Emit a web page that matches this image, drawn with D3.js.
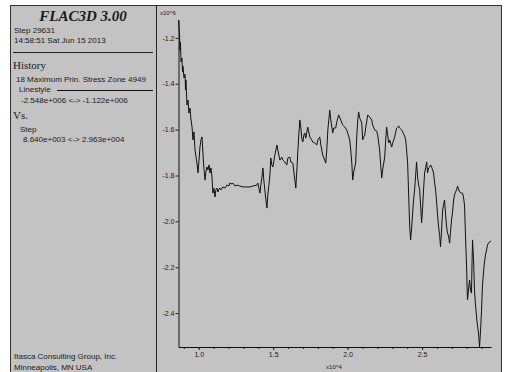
<!DOCTYPE html>
<html>
<head>
<meta charset="utf-8">
<script src="https://cdn.jsdelivr.net/npm/d3@7"></script>
<style>
  html, body { margin: 0; padding: 0; background: #fff; }
  svg { display: block; }
  text { font-family: "Liberation Sans", Arial, sans-serif; fill: #1a1a1a; }
  .serif { font-family: "Liberation Serif", "Times New Roman", serif; }
</style>
</head>
<body>
<div id="chart"></div>
<script>
// history 18: step number vs maximum principal stress (x10^6)
const steps = [
  8640, 8710, 8740, 8770, 8810, 8870, 8910, 8940, 9010, 9080, 9110, 9140, 9180, 9210, 9280, 9340,
  9410, 9480, 9550, 9610, 9680, 9750, 9880, 9950, 10020, 10080, 10150, 10220, 10280, 10320, 10420,
  10480, 10550, 10620, 10690, 10750, 10820, 10890, 10950, 11020, 11090, 11150, 11220, 11290, 11360,
  11420, 11490, 11620, 11760, 11890, 12030, 12090, 12230, 12290, 12430, 12560, 12760, 12970, 13230,
  13430, 13640, 13900, 13970, 14040, 14110, 14170, 14240, 14310, 14370, 14440, 14510, 14580, 14640,
  14710, 14780, 14840, 14910, 14980, 15110, 15250, 15310, 15450, 15580, 15650, 15780, 15920, 15980,
  16120, 16180, 16320, 16390, 16520, 16590, 16650, 16720, 16790, 16860, 16920, 16990, 17060, 17120,
  17190, 17320, 17390, 17460, 17590, 17660, 17790, 17930, 18000, 18130, 18200, 18330, 18460, 18530,
  18600, 18670, 18800, 18870, 19000, 19070, 19200, 19270, 19400, 19540, 19670, 19810, 19940, 20010,
  20140, 20210, 20280, 20340, 20410, 20540, 20610, 20680, 20740, 20810, 20950, 21010, 21080, 21150,
  21210, 21350, 21480, 21620, 21680, 21820, 21950, 22020, 22150, 22220, 22290, 22350, 22490, 22560,
  22620, 22690, 22760, 22820, 22960, 23030, 23160, 23290, 23430, 23490, 23630, 23700, 23830, 23900,
  23960, 24030, 24100, 24170, 24230, 24300, 24370, 24430, 24500, 24570, 24630, 24700, 24770, 24840,
  24900, 24970, 25040, 25100, 25170, 25240, 25310, 25370, 25440, 25510, 25570, 25640, 25710, 25770,
  25840, 25910, 25980, 26040, 26110, 26180, 26240, 26310, 26380, 26440, 26510, 26580, 26650, 26710,
  26780, 26850, 26910, 26980, 27050, 27120, 27180, 27250, 27320, 27380, 27450, 27520, 27650, 27720,
  27790, 27850, 27920, 27990, 28050, 28120, 28190, 28260, 28320, 28360, 28390, 28460, 28520, 28590,
  28660, 28720, 28790, 28860, 28930, 28990, 29060, 29130, 29190, 29260, 29330, 29400, 29460, 29530,
  29630
];
const stress = [
  -1.122, -1.187, -1.253, -1.218, -1.305, -1.288, -1.349, -1.323, -1.375, -1.358, -1.427, -1.384, -1.449, -1.493, -1.471, -1.528,
  -1.506, -1.558, -1.589, -1.645, -1.610, -1.689, -1.746, -1.789, -1.733, -1.676, -1.645, -1.632, -1.698, -1.746, -1.820,
  -1.785, -1.763, -1.776, -1.754, -1.789, -1.767, -1.807, -1.877, -1.855, -1.894, -1.863, -1.855, -1.872, -1.859,
  -1.855, -1.863, -1.850, -1.855, -1.842, -1.846, -1.833, -1.837, -1.833, -1.846, -1.842, -1.846, -1.850, -1.850,
  -1.850, -1.846, -1.842, -1.833, -1.855, -1.877, -1.842, -1.811, -1.767, -1.820, -1.863, -1.907, -1.942, -1.885,
  -1.842, -1.798, -1.724, -1.754, -1.763, -1.711, -1.667, -1.689, -1.733, -1.720, -1.733, -1.741, -1.754, -1.724,
  -1.720, -1.741, -1.746, -1.785, -1.855, -1.776, -1.702, -1.624, -1.558, -1.593, -1.637, -1.654, -1.624, -1.615,
  -1.637, -1.589, -1.610, -1.632, -1.645, -1.654, -1.658, -1.667, -1.645, -1.632, -1.667, -1.711, -1.733, -1.746,
  -1.689, -1.602, -1.515, -1.558, -1.615, -1.593, -1.593, -1.567, -1.536, -1.558, -1.580, -1.589, -1.602, -1.615,
  -1.645, -1.689, -1.746, -1.820, -1.785, -1.746, -1.632, -1.558, -1.523, -1.549, -1.571, -1.645, -1.632, -1.624,
  -1.593, -1.536, -1.545, -1.558, -1.580, -1.602, -1.606, -1.624, -1.689, -1.754, -1.811, -1.776, -1.720, -1.645,
  -1.589, -1.624, -1.658, -1.645, -1.676, -1.658, -1.632, -1.593, -1.584, -1.593, -1.602, -1.610, -1.628, -1.645,
  -1.689, -1.746, -1.885, -2.025, -2.081, -2.029, -1.959, -1.907, -1.863, -1.798, -1.741, -1.807, -1.842, -1.863,
  -1.929, -2.007, -1.938, -1.863, -1.789, -1.767, -1.741, -1.789, -1.767, -1.763, -1.754, -1.763, -1.776, -1.789,
  -1.829, -1.863, -1.920, -1.972, -2.025, -2.060, -2.112, -2.038, -1.951, -1.929, -1.907, -1.972, -2.025, -2.051,
  -2.064, -2.095, -2.047, -1.994, -1.959, -1.907, -1.885, -1.872, -1.863, -1.846, -1.859, -1.872, -1.877, -1.877,
  -1.898, -1.929, -2.068, -2.199, -2.343, -2.300, -2.256, -2.300, -2.313, -2.169, -2.081, -2.169, -2.300, -2.365,
  -2.417, -2.452, -2.487, -2.548, -2.474, -2.395, -2.278, -2.221, -2.177, -2.147, -2.125, -2.103, -2.095, -2.090,
  -2.086
];
const xTicks = [10000, 15000, 20000, 25000];
const yTicks = [-1.2, -1.4, -1.6, -1.8, -2.0, -2.2, -2.4];
const infoLines = [
  'Step 29631',
  '14:58:51 Sat Jun 15 2013'
];

const W = 508, H = 372;
const svg = d3.select('#chart').append('svg')
  .attr('width', W)
  .attr('height', H);

// outer frame (grey sheet)
svg.append('rect')
  .attr('x', 10.5).attr('y', 5.5)
  .attr('width', 491).attr('height', 380)
  .attr('fill', '#c3c3c3')
  .attr('stroke', '#333');

// divider between legend panel and plot
svg.append('line')
  .attr('x1', 156.5).attr('x2', 156.5)
  .attr('y1', 5).attr('y2', H)
  .attr('stroke', '#222');

// ---- legend panel
svg.append('text')
  .attr('class', 'serif')
  .attr('x', 83).attr('y', 21)
  .attr('text-anchor', 'middle')
  .style('font-size', '15px')
  .style('font-weight', 'bold')
  .style('font-style', 'italic')
  .text('FLAC3D 3.00');

svg.selectAll('.info')
  .data(infoLines)
  .enter()
  .append('text')
  .attr('x', 14)
  .attr('y', (d, i) => 33 + i * 10)
  .style('font-size', '8px')
  .text(d => d);

svg.append('line')
  .attr('x1', 13).attr('x2', 153)
  .attr('y1', 52.5).attr('y2', 52.5)
  .attr('stroke', '#222');

svg.append('text').attr('class', 'serif')
  .attr('x', 13).attr('y', 69)
  .style('font-size', '11px')
  .text('History');

svg.append('text')
  .attr('x', 16).attr('y', 82)
  .style('font-size', '8px')
  .text('18 Maximum Prin. Stress Zone 4949');

svg.append('text')
  .attr('x', 19).attr('y', 92)
  .style('font-size', '8px')
  .text('Linestyle');

svg.append('line')
  .attr('x1', 57).attr('x2', 153)
  .attr('y1', 90.5).attr('y2', 90.5)
  .attr('stroke', '#111');

svg.append('text')
  .attr('x', 21).attr('y', 103)
  .style('font-size', '8px')
  .text('-2.548e+006 <-> -1.122e+006');

svg.append('text').attr('class', 'serif')
  .attr('x', 13).attr('y', 119)
  .style('font-size', '11px')
  .text('Vs.');

svg.append('text')
  .attr('x', 20).attr('y', 132)
  .style('font-size', '8px')
  .text('Step');

svg.append('text')
  .attr('x', 23).attr('y', 142)
  .style('font-size', '8px')
  .text('8.640e+003 <->  2.963e+004');

svg.append('text')
  .attr('x', 14).attr('y', 359)
  .style('font-size', '8px')
  .text('Itasca Consulting Group, Inc.');

svg.append('text')
  .attr('x', 14).attr('y', 370)
  .style('font-size', '8px')
  .text('Minneapolis, MN  USA');

// ---- plot
const x = d3.scaleLinear()
  .domain([8640, 29630])
  .range([178.5, 491]);

const y = d3.scaleLinear()
  .domain([-2.548, -1.122])
  .range([347, 20]);

const g = svg.append('g');

// minor ticks along x every 1000 steps
g.append('g')
  .attr('transform', 'translate(0,347)')
  .call(d3.axisBottom(x).tickValues(d3.range(9000, 29001, 1000)).tickSize(2).tickFormat(''))
  .call(a => a.select('.domain').remove())
  .selectAll('line').attr('stroke', '#222');

const xAxis = g.append('g')
  .attr('transform', 'translate(0,347)')
  .call(d3.axisBottom(x)
    .tickValues(xTicks)
    .tickSize(3)
    .tickSizeOuter(0)
    .tickPadding(2)
    .tickFormat(d => (d / 10000).toFixed(1)));

const yAxis = g.append('g')
  .attr('transform', 'translate(178.5,0)')
  .call(d3.axisLeft(y)
    .tickValues(yTicks)
    .tickSize(3)
    .tickSizeOuter(0)
    .tickPadding(1)
    .tickFormat(d => d.toFixed(1)));

[xAxis, yAxis].forEach(a => {
  a.select('.domain').attr('stroke', '#111');
  a.selectAll('line').attr('stroke', '#222');
  a.selectAll('text')
    .style('font-family', '"Liberation Sans", Arial, sans-serif')
    .style('font-size', '7px')
    .attr('fill', '#222');
});

g.append('text')
  .attr('x', 160).attr('y', 15)
  .style('font-size', '6px')
  .text('x10^6');

g.append('text')
  .attr('x', 334).attr('y', 369)
  .attr('text-anchor', 'middle')
  .style('font-size', '6px')
  .text('x10^4');

const line = d3.line()
  .x((d, i) => x(steps[i]))
  .y(d => y(d));

g.append('path')
  .datum(stress)
  .attr('fill', 'none')
  .attr('stroke', '#111')
  .attr('stroke-width', 1)
  .attr('stroke-linejoin', 'round')
  .attr('d', line);
</script>
</body>
</html>
